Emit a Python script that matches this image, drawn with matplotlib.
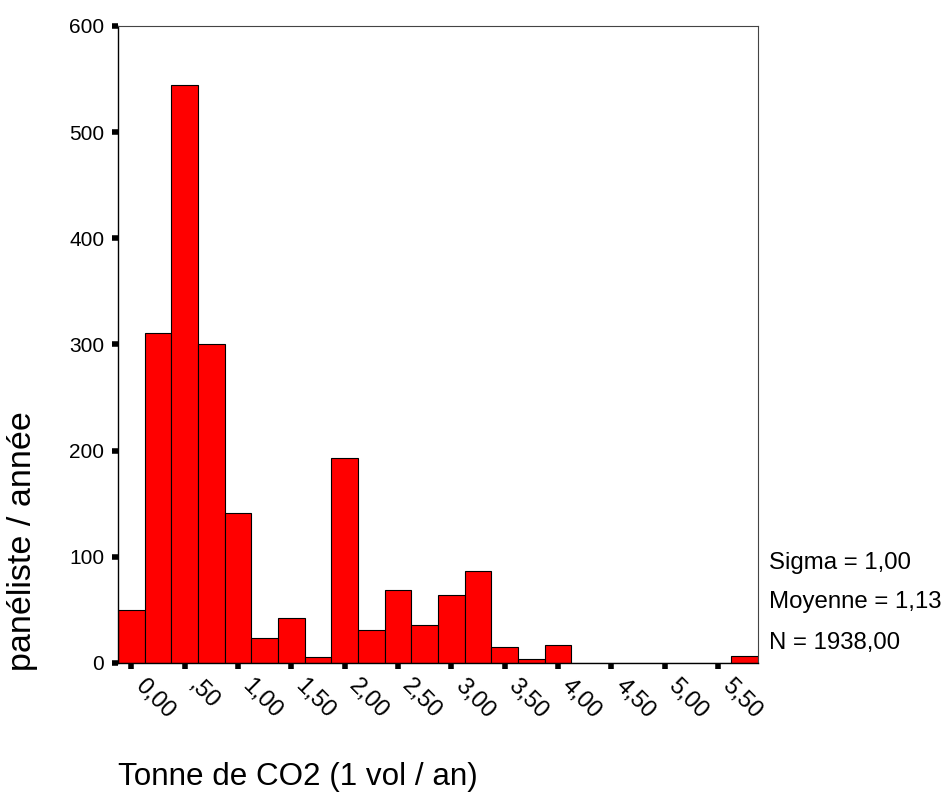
import numpy as np
import matplotlib
matplotlib.use("Agg")
import matplotlib.pyplot as plt
import matplotlib.transforms as mtransforms

plt.rcParams['font.family'] = ['Liberation Sans', 'DejaVu Sans']

# Histogramme : centres des classes (largeur 0,25) et effectifs
bin_centers = [0.00, 0.25, 0.50, 0.75, 1.00, 1.25, 1.50, 1.75, 2.00, 2.25, 2.50, 2.75,
               3.00, 3.25, 3.50, 3.75, 4.00, 4.25, 4.50, 4.75, 5.00, 5.25, 5.50, 5.75]
counts = [50, 311, 544, 300, 141, 24, 42, 6, 193, 31, 69, 36,
          64, 87, 15, 4, 17, 0, 0, 0, 0, 0, 0, 7]
bin_width = 0.25

x_ticks = [0.0, 0.5, 1.0, 1.5, 2.0, 2.5, 3.0, 3.5, 4.0, 4.5, 5.0, 5.5]
x_tick_labels = ['0,00', ',50', '1,00', '1,50', '2,00', '2,50', '3,00', '3,50',
                 '4,00', '4,50', '5,00', '5,50']
y_ticks = [0, 100, 200, 300, 400, 500, 600]

stats = ['Sigma = 1,00', 'Moyenne = 1,13', 'N = 1938,00']

fig = plt.figure(figsize=(9.45, 7.94), dpi=100)
ax = fig.add_axes([0.1249, 0.165, 0.6772, 0.8023])

ax.bar(bin_centers, counts, width=bin_width, align='center',
       color='#FF0000', edgecolor='black', linewidth=0.8)

ax.set_xlim(bin_centers[0] - bin_width / 2, bin_centers[-1] + bin_width / 2)
ax.set_ylim(0, 600)

ax.set_yticks(y_ticks)
ax.set_yticklabels([str(v) for v in y_ticks], fontsize=15)
ax.set_xticks(x_ticks)
ax.set_xticklabels([])

# étiquettes inclinées, décalées à droite du repère
trans = mtransforms.blended_transform_factory(ax.transData, ax.transAxes)
offset = mtransforms.ScaledTranslation(15 / 100, -12 / 100, fig.dpi_scale_trans)
for xt, lab in zip(x_ticks, x_tick_labels):
    ax.text(xt, 0, lab, transform=trans + offset, fontsize=17, rotation=-45,
            ha='left', va='top', rotation_mode='anchor', clip_on=False)

ax.tick_params(axis='x', length=4, width=4, color='black')
ax.tick_params(axis='y', length=4, width=4, pad=6, color='black')

for side in ['left', 'bottom']:
    ax.spines[side].set_color('black')
    ax.spines[side].set_linewidth(1.0)
for side in ['top', 'right']:
    ax.spines[side].set_color('#444444')
    ax.spines[side].set_linewidth(0.8)

fig.text(0.0233, 0.3186, 'panéliste / année', rotation=90,
         ha='center', va='center', fontsize=24.5)
fig.text(0.3148, 0.0214, 'Tonne de CO2 (1 vol / an)',
         ha='center', va='center', fontsize=22.6)

for txt, yy in zip(stats, [0.2909, 0.2418, 0.1902]):
    fig.text(0.8138, yy, txt, ha='left', va='center', fontsize=17.3)

fig.savefig('out.png', dpi=100)
